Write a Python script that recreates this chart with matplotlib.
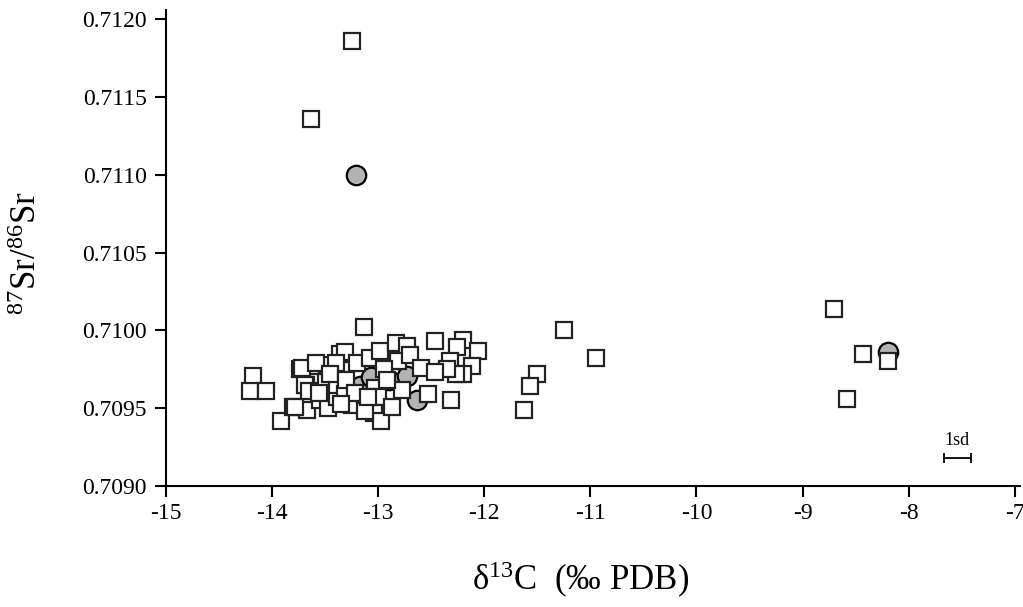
import matplotlib
matplotlib.use("Agg")
import matplotlib.pyplot as plt

plt.rcParams['font.family'] = ['Liberation Serif', 'DejaVu Serif']
plt.rcParams['mathtext.fontset'] = 'custom'
plt.rcParams['mathtext.rm'] = 'Liberation Serif'
plt.rcParams['mathtext.default'] = 'regular'
plt.rcParams['axes.unicode_minus'] = False

# datos: cuadrados (blancos) y circulos (grises)
sq_x = [-13.25, -13.63, -13.13,
        -14.18, -14.21, -14.06, -13.92, -13.80, -13.74, -13.68, -13.67,
        -13.59, -13.55, -13.48, -13.49, -13.47, -13.39, -13.36, -13.31,
        -13.40, -13.20, -13.08, -12.98, -12.83, -12.73, -12.81, -12.70,
        -12.60, -12.95, -13.39, -13.31, -13.25, -13.03, -13.00, -13.04,
        -12.97, -12.87, -12.78, -13.72, -13.59, -13.69, -13.78, -13.65,
        -13.56, -13.45, -13.30, -13.22, -13.12, -13.10, -12.92, -13.35,
        -12.46, -12.20, -12.26, -12.06, -12.32, -12.12, -12.20, -12.27,
        -12.35, -12.46, -12.53, -12.31,
        -11.25, -10.95, -11.50, -11.57, -11.63,
        -8.70, -8.43, -8.19, -8.58]
sq_y = [0.71186, 0.71136, 0.71002,
        0.70971, 0.70961, 0.70961, 0.70942, 0.70951, 0.70975, 0.70965, 0.70949,
        0.70977, 0.70955, 0.70978, 0.70967, 0.70950, 0.70957, 0.70985, 0.70986,
        0.70979, 0.70979, 0.70982, 0.70987, 0.70992, 0.70990, 0.70980, 0.70984,
        0.70976, 0.70975, 0.70965, 0.70959, 0.70952, 0.70963, 0.70957, 0.70947,
        0.70942, 0.70951, 0.70962, 0.70976, 0.70979, 0.70965, 0.70951, 0.70961,
        0.70960, 0.70972, 0.70968, 0.70960, 0.70948, 0.70957, 0.70968, 0.70953,
        0.70993, 0.70994, 0.70989, 0.70987, 0.70980, 0.70977, 0.70972, 0.70972,
        0.70975, 0.70973, 0.70959, 0.70955,
        0.71000, 0.70982, 0.70972, 0.70964, 0.70949,
        0.71014, 0.70985, 0.70980, 0.70956]

circ_x = [-13.21, -13.17, -13.07, -12.90, -12.73, -12.63, -8.19]
circ_y = [0.71100, 0.70964, 0.70970, 0.70968, 0.70971, 0.70955, 0.70986]

# barra de 1 desviacion estandar
sd_x = -7.54
sd_y = 0.70918
sd_half = 0.125

fig = plt.figure(figsize=(10.23, 6.07), dpi=100)
ax = fig.add_axes([0.1623, 0.1993, 0.8348, 0.7842])

ax.plot(circ_x, circ_y, 'o', ms=14, mfc='#b3b3b3', mec='black', mew=1.6, zorder=2)
ax.plot(sq_x, sq_y, 's', ms=12, mfc='white', mec='#222222', mew=1.6, zorder=3)

ax.errorbar([sd_x], [sd_y], xerr=[sd_half], fmt='none', ecolor='black',
            elinewidth=1.3, capsize=3.5, capthick=1.3)
ax.text(sd_x, sd_y + 0.00006, '1sd', ha='center', va='bottom', fontsize=13)

ax.set_xlim(-15, -6.95)
ax.set_ylim(0.7090, 0.712058)
ax.set_xticks(range(-15, -6))
ax.set_xticklabels([str(v) for v in range(-15, -6)])
yt = [0.7090, 0.7095, 0.7100, 0.7105, 0.7110, 0.7115, 0.7120]
ax.set_yticks(yt)
ax.set_yticklabels([f'{v:.4f}' for v in yt])

for s in ['top', 'right']:
    ax.spines[s].set_visible(False)
for s in ['left', 'bottom']:
    ax.spines[s].set_linewidth(1.5)
ax.tick_params(axis='x', direction='out', length=8, width=1.5, labelsize=17, pad=4)
ax.tick_params(axis='y', direction='out', length=8, width=1.5, labelsize=17, pad=6)

ax.set_xlabel(r'δ$^{13}$C  (‰ PDB)', fontsize=25)
ax.xaxis.set_label_coords(0.485, -0.155)
ax.set_ylabel(r'$^{87}$Sr/$^{86}$Sr', fontsize=25)
ax.yaxis.set_label_coords(-0.143, 0.49)

fig.savefig('out.png', dpi=100)
